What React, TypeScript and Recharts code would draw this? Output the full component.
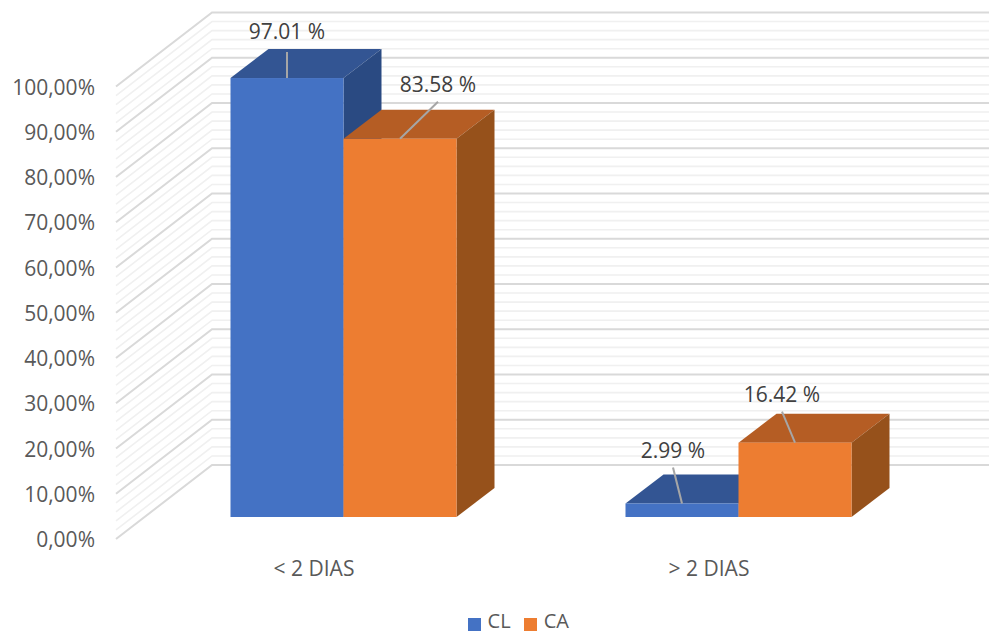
import { BarChart, Bar, XAxis, YAxis, Legend, LabelList, CartesianGrid } from 'recharts';

const categories = ['< 2 DIAS', '> 2 DIAS'];
const clValues = [97.01, 2.99];
const caValues = [83.58, 16.42];
const yTicks = [0, 10, 20, 30, 40, 50, 60, 70, 80, 90, 100];
const gridValues = [
  0, 2, 4, 6, 8, 10, 12, 14, 16, 18, 20, 22, 24, 26, 28, 30, 32, 34, 36, 38, 40, 42, 44, 46, 48, 50,
  52, 54, 56, 58, 60, 62, 64, 66, 68, 70, 72, 74, 76, 78, 80, 82, 84, 86, 88, 90, 92, 94, 96, 98, 100,
];

const chartData = categories.map((name, i) => ({ name, CL: clValues[i], CA: caValues[i] }));

const FONT = '"Open Sans", sans-serif';
const WIDTH = 989;
const HEIGHT = 634;

// depth of the boxes, and of the side wall behind them
const BOX_DX = 38;
const BOX_DY = 29;
const WALL_FRONT = { x: 116, dy: 22 };
const WALL_BACK = { x: 212, dy: -52 };

const BLUE = { front: '#4472c4', top: '#335593', side: '#2a4a82' };
const ORANGE = { front: '#ed7d31', top: '#b55d24', side: '#96511b' };

// leader line end and label centre, relative to the top middle of each bar
const CL_LEADERS = [{ dx: 0, dy: -26, tx: 0, ty: -47 }, { dx: -9, dy: -36, tx: -9, ty: -53 }];
const CA_LEADERS = [{ dx: 38, dy: -37, tx: 38, ty: -55 }, { dx: -13, dy: -31, tx: -13, ty: -49 }];

function Box({ x, y, width, height, colors }: any) {
  const r = x + width;
  const b = y + height;
  return (
    <g>
      <polygon points={`${x},${y} ${r},${y} ${r + BOX_DX},${y - BOX_DY} ${x + BOX_DX},${y - BOX_DY}`} fill={colors.top} />
      <polygon points={`${r},${y} ${r + BOX_DX},${y - BOX_DY} ${r + BOX_DX},${b - BOX_DY} ${r},${b}`} fill={colors.side} />
      <rect x={x} y={y} width={width} height={height} fill={colors.front} />
    </g>
  );
}

// each gridline bends along the side wall, then runs across the back wall
function wallLine({ y1, index }: any) {
  const major = index % 5 === 0;
  return (
    <polyline
      key={index}
      points={`${WALL_FRONT.x},${y1 + WALL_FRONT.dy} ${WALL_BACK.x},${y1 + WALL_BACK.dy} ${WIDTH},${y1 + WALL_BACK.dy}`}
      fill="none"
      stroke={major ? '#d9d9d9' : '#f0f0f0'}
      strokeWidth={major ? 2 : 1.6}
    />
  );
}

function ValueTick({ y, payload }: any) {
  return (
    <text x={95} y={y + WALL_FRONT.dy} dy={8} textAnchor="end" fontFamily={FONT} fontSize={21} fill="#595959">
      {payload.value.toFixed(2).replace('.', ',')}%
    </text>
  );
}

function CategoryTick({ x, y, payload }: any) {
  return (
    <text x={x - 29} y={y + 51} textAnchor="middle" fontFamily={FONT} fontSize={21} fill="#595959">
      {payload.value}
    </text>
  );
}

function leaderLabel(leaders: any[]) {
  return function LeaderLabel({ x, y, width, value, index }: any) {
    const l = leaders[index];
    const cx = x + width / 2;
    return (
      <g>
        <line x1={cx} y1={y} x2={cx + l.dx} y2={y + l.dy} stroke="#a6a6a6" strokeWidth={2} />
        <text x={cx + l.tx} y={y + l.ty} dy={8} textAnchor="middle" fontFamily={FONT} fontSize={21} fill="#404040">
          {value.toFixed(2)} %
        </text>
      </g>
    );
  };
}

function legendText(value: string) {
  return (
    <span style={{ display: 'inline-block', margin: '0 3px', lineHeight: '16px', color: '#595959', fontFamily: FONT, fontSize: 20 }}>
      {value}
    </span>
  );
}

export default function App() {
  return (
    <div style={{ position: 'absolute', left: 0, top: 0, width: WIDTH, height: HEIGHT, overflow: 'hidden', background: '#fff' }}>
      <BarChart
        width={WIDTH}
        height={HEIGHT}
        data={chartData}
        barSize={113}
        barGap={0}
        margin={{ top: 64.5, right: 53.5, left: 0, bottom: 0 }}
      >
        <CartesianGrid vertical={false} horizontalValues={gridValues} horizontal={wallLine} />
        <YAxis
          width={145.5}
          domain={[0, 100]}
          ticks={yTicks}
          interval={0}
          axisLine={false}
          tickLine={false}
          tick={<ValueTick />}
        />
        <XAxis dataKey="name" height={98} axisLine={false} tickLine={false} tick={<CategoryTick />} />
        <Legend
          verticalAlign="bottom"
          iconType="square"
          iconSize={13}
          itemSorter={null}
          formatter={legendText}
          wrapperStyle={{ left: 57, bottom: 2 }}
        />
        <Bar dataKey="CL" fill={BLUE.front} isAnimationActive={false} shape={<Box colors={BLUE} />}>
          <LabelList dataKey="CL" content={leaderLabel(CL_LEADERS)} />
        </Bar>
        <Bar dataKey="CA" fill={ORANGE.front} isAnimationActive={false} shape={<Box colors={ORANGE} />}>
          <LabelList dataKey="CA" content={leaderLabel(CA_LEADERS)} />
        </Bar>
      </BarChart>
    </div>
  );
}
